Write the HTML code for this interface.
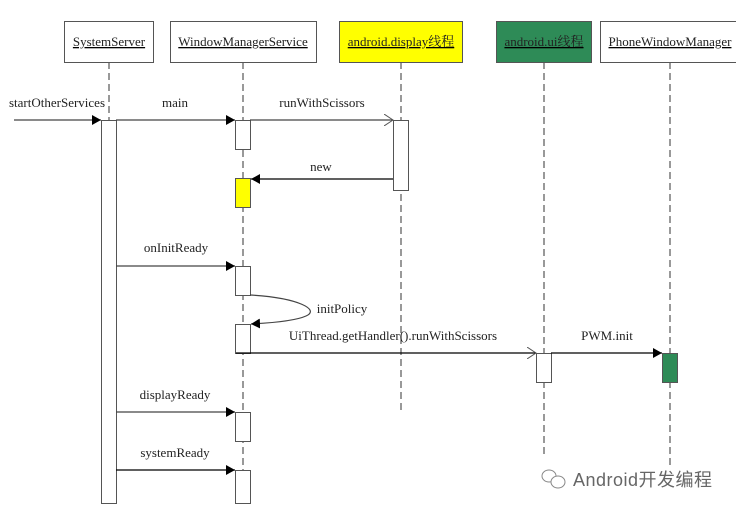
<!DOCTYPE html>
<html><head><meta charset="utf-8"><style>
html,body{margin:0;padding:0;background:#fff;}
svg text{font-family:"Liberation Serif","Noto Serif CJK SC",serif;font-size:13px;fill:#222;}
</style></head><body>
<svg width="736" height="511" viewBox="0 0 736 511" xmlns="http://www.w3.org/2000/svg">
<defs>
<marker id="f" markerWidth="10" markerHeight="10" refX="9" refY="5" orient="auto" markerUnits="userSpaceOnUse"><path d="M0,0 L9,5 L0,10 z" fill="#000"/></marker>
<marker id="o" markerWidth="10" markerHeight="12" refX="9" refY="6" orient="auto" markerUnits="userSpaceOnUse"><path d="M0,0 L9,6 L0,12" fill="none" stroke="#555"/></marker>
</defs>
<g stroke="#333" stroke-dasharray="7,4" stroke-width="1">
<line x1="109" y1="62" x2="109" y2="120"/>
<line x1="243" y1="62" x2="243" y2="503"/>
<line x1="401" y1="62" x2="401" y2="412"/>
<line x1="544" y1="62" x2="544" y2="457"/>
<line x1="670" y1="62" x2="670" y2="467"/>
</g>
<g stroke="#555" stroke-width="1">
<rect x="64.5" y="21.5" width="89" height="41" fill="#fff"/>
<rect x="170.5" y="21.5" width="146" height="41" fill="#fff"/>
<rect x="339.5" y="21.5" width="123" height="41" fill="#ffff00"/>
<rect x="496.5" y="21.5" width="95" height="41" fill="#2e8b57"/>
<rect x="600.5" y="21.5" width="140" height="41" fill="#fff"/>
</g>
<g text-anchor="middle" text-decoration="underline">
<text x="109" y="46">SystemServer</text>
<text x="243" y="46">WindowManagerService</text>
<text x="401" y="46">android.display线程</text>
<text x="544" y="46">android.ui线程</text>
<text x="670" y="46">PhoneWindowManager</text>
</g>
<g stroke="#555" stroke-width="1" fill="#fff">
<rect x="101.5" y="120.5" width="15" height="383"/>
<rect x="235.5" y="120.5" width="15" height="29"/>
<rect x="235.5" y="178.5" width="15" height="29" fill="#ffff00"/>
<rect x="393.5" y="120.5" width="15" height="70"/>
<rect x="235.5" y="266.5" width="15" height="29"/>
<rect x="235.5" y="324.5" width="15" height="29"/>
<rect x="536.5" y="353.5" width="15" height="29"/>
<rect x="662.5" y="353.5" width="15" height="29" fill="#2e8b57"/>
<rect x="235.5" y="412.5" width="15" height="29"/>
<rect x="235.5" y="470.5" width="15" height="33"/>
</g>
<g stroke="#444" stroke-width="1.2" fill="none">
<line x1="14" y1="120" x2="101" y2="120" marker-end="url(#f)"/>
<line x1="116" y1="120" x2="235" y2="120" marker-end="url(#f)"/>
<line x1="250" y1="120" x2="393" y2="120" marker-end="url(#o)"/>
<line x1="393" y1="179" x2="251" y2="179" stroke="#000" marker-end="url(#f)"/>
<line x1="116" y1="266" x2="235" y2="266" marker-end="url(#f)"/>
<path d="M250,295 C300,298 320,310 306,316 C295,321 270,323 251,324" marker-end="url(#f)"/>
<line x1="236" y1="353" x2="536" y2="353" stroke="#000" marker-end="url(#o)"/>
<line x1="551" y1="353" x2="662" y2="353" stroke="#000" marker-end="url(#f)"/>
<line x1="116" y1="412" x2="235" y2="412" marker-end="url(#f)"/>
<line x1="116" y1="470" x2="235" y2="470" stroke="#000" marker-end="url(#f)"/>
</g>
<g text-anchor="middle">
<text x="57" y="107">startOtherServices</text>
<text x="175" y="107">main</text>
<text x="322" y="107">runWithScissors</text>
<text x="321" y="171">new</text>
<text x="176" y="252">onInitReady</text>
<text x="342" y="313">initPolicy</text>
<text x="393" y="340">UiThread.getHandler().runWithScissors</text>
<text x="607" y="340">PWM.init</text>
<text x="175" y="399">displayReady</text>
<text x="175" y="457">systemReady</text>
</g>
<g stroke="#888" fill="#fff" stroke-width="1">
<ellipse cx="549" cy="476" rx="7" ry="6"/>
<ellipse cx="558" cy="482" rx="7" ry="6"/>
</g>
<text x="573" y="486" textLength="139" style="font-family:'Liberation Sans','Noto Sans CJK SC',sans-serif;font-size:18px;fill:#666;">Android开发编程</text>
</svg>
</body></html>
